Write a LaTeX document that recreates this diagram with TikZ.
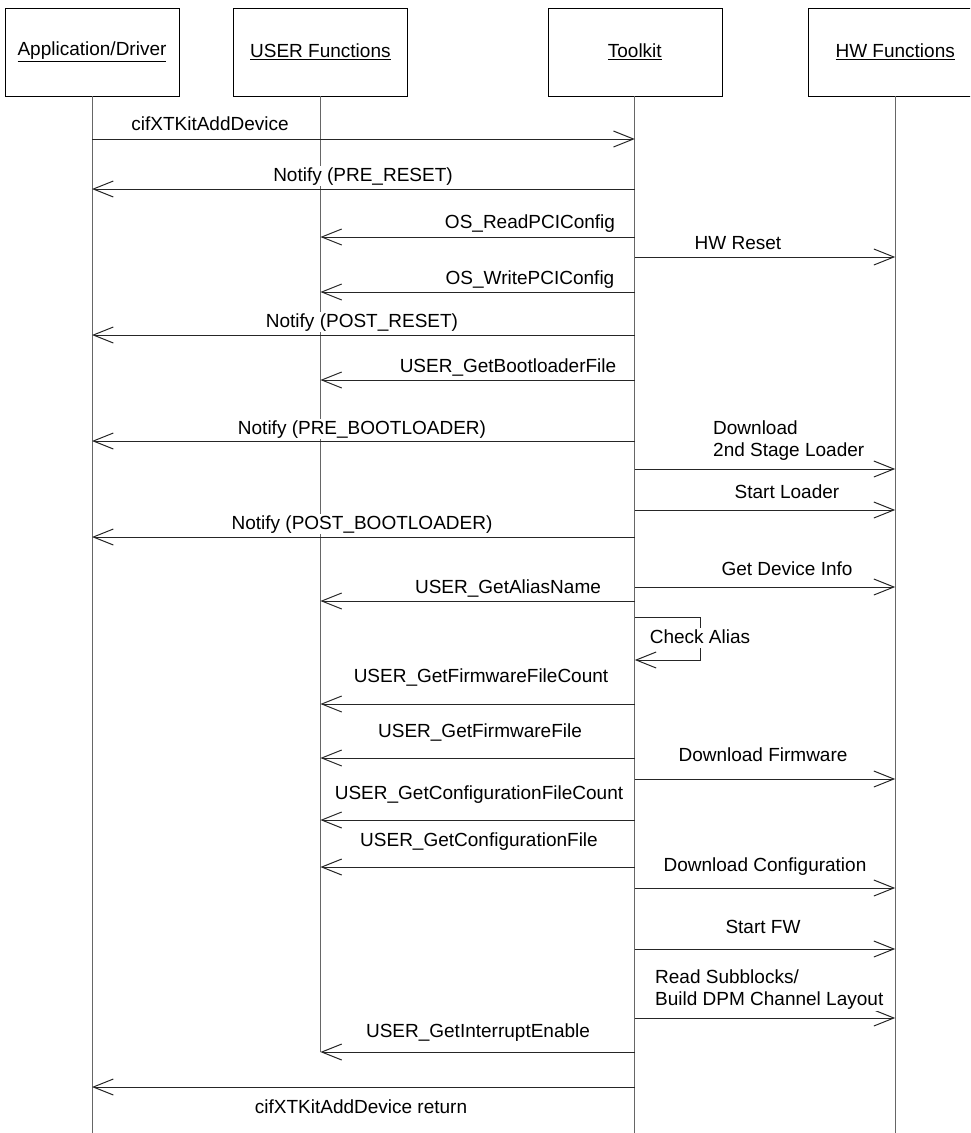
\documentclass[tikz,border=0pt]{standalone}
\usepackage{fontspec}
\setmainfont{Liberation Sans}
\usetikzlibrary{positioning, arrows.meta}
\tikzset{actor/.style={
        draw,
        rectangle,
        minimum width=174pt,
        minimum height=88pt,
        inner sep=0pt,
        align=center
}}
\tikzset{lifeline/.style={draw, black!60, line width=1pt}}
\tikzset{msg/.style={draw, black!85, line width=1pt, -{Straight Barb[length=20pt,width=16pt]}}}
\tikzset{msglabel/.style={fill=white, inner sep=1pt, text height=14pt, text depth=4pt}}
\tikzset{msgnote/.style={fill=white, inner sep=1pt, align=left, anchor=west}}

\begin{document}
\begin{tikzpicture}[x=1pt, y=-1pt, every node/.style={font=\fontsize{19}{22}\selectfont}]
\useasboundingbox (0,0) rectangle (970,1133);
\clip (0,0) rectangle (970,1133);

% participants
\node[actor] (app) at (92,52) {\underline{Application/Driver}};
\node[actor, right=54pt of app] (usr) {\underline{USER Functions}};
\node[actor, right=140pt of usr] (tk) {\underline{Toolkit}};
\node[actor, right=86pt of tk] (hw) {\underline{HW Functions}};

% message rows
\coordinate (bottom) at (0,1133);
\coordinate (r1) at (0,139);
\coordinate (r2) at (0,189);
\coordinate (r3) at (0,237);
\coordinate (r4) at (0,257);
\coordinate (r5) at (0,292);
\coordinate (r6) at (0,335);
\coordinate (r7) at (0,380);
\coordinate (r8) at (0,441);
\coordinate (r9) at (0,469);
\coordinate (r10) at (0,510);
\coordinate (r11) at (0,537);
\coordinate (r12) at (0,587);
\coordinate (r13) at (0,601);
\coordinate (loopA) at (700,617);
\coordinate (loopB) at (700,660);
\coordinate (r15) at (0,704);
\coordinate (r16) at (0,758);
\coordinate (r17) at (0,779);
\coordinate (r18) at (0,820);
\coordinate (r19) at (0,867);
\coordinate (r20) at (0,888);
\coordinate (r21) at (0,949);
\coordinate (r22) at (0,1018);
\coordinate (r23) at (0,1052);
\coordinate (r24) at (0,1087);

% lifelines
\draw[lifeline] (app.south) -- (app |- bottom);
\draw[lifeline] (usr.south) -- (usr |- r23);
\draw[lifeline] (tk.south) -- (tk |- bottom);
\draw[lifeline] (hw.south) -- (hw |- bottom);

% messages
\draw[msg] (app |- r1) -- (tk |- r1);
\draw[msg] (tk |- r2) -- (app |- r2);
\draw[msg] (tk |- r3) -- (usr |- r3);
\draw[msg] (tk |- r4) -- (hw |- r4);
\draw[msg] (tk |- r5) -- (usr |- r5);
\draw[msg] (tk |- r6) -- (app |- r6);
\draw[msg] (tk |- r7) -- (usr |- r7);
\draw[msg] (tk |- r8) -- (app |- r8);
\draw[msg] (tk |- r9) -- (hw |- r9);
\draw[msg] (tk |- r10) -- (hw |- r10);
\draw[msg] (tk |- r11) -- (app |- r11);
\draw[msg] (tk |- r12) -- (hw |- r12);
\draw[msg] (tk |- r13) -- (usr |- r13);
\draw[msg] (tk |- loopA) -- (loopA) -- (loopB) -- (tk |- loopB);
\draw[msg] (tk |- r15) -- (usr |- r15);
\draw[msg] (tk |- r16) -- (usr |- r16);
\draw[msg] (tk |- r17) -- (hw |- r17);
\draw[msg] (tk |- r18) -- (usr |- r18);
\draw[msg] (tk |- r19) -- (usr |- r19);
\draw[msg] (tk |- r20) -- (hw |- r20);
\draw[msg] (tk |- r21) -- (hw |- r21);
\draw[msg] (tk |- r22) -- (hw |- r22);
\draw[msg] (tk |- r23) -- (usr |- r23);
\draw[msg] (tk |- r24) -- (app |- r24);

% labels
\node[msglabel] (t1) at (210,125) {cifXTKitAddDevice};
\node[msglabel] (t2) at (363,176) {Notify (PRE\_RESET)};
\node[msglabel] (t3) at (530,223) {OS\_ReadPCIConfig};
\node[msglabel] (t4) at (738,244) {HW Reset};
\node[msglabel] (t5) at (530,279) {OS\_WritePCIConfig};
\node[msglabel] (t6) at (362,322) {Notify (POST\_RESET)};
\node[msglabel] (t7) at (508,367) {USER\_GetBootloaderFile};
\node[msglabel] (t8) at (362,429) {Notify (PRE\_BOOTLOADER)};
\node[msgnote] (t9) at (712,441) {Download\\2nd Stage Loader};
\node[msglabel] (t10) at (787,493) {Start Loader};
\node[msglabel] (t11) at (362,524) {Notify (POST\_BOOTLOADER)};
\node[msglabel] (t12) at (787,570) {Get Device Info};
\node[msglabel] (t13) at (508,588) {USER\_GetAliasName};
\node[msglabel] (t14) at (700,638) {Check Alias};
\node[msglabel] (t15) at (481,677) {USER\_GetFirmwareFileCount};
\node[msglabel] (t16) at (480,732) {USER\_GetFirmwareFile};
\node[msglabel] (t17) at (763,756) {Download Firmware};
\node[msglabel] (t18) at (479,794) {USER\_GetConfigurationFileCount};
\node[msglabel] (t19) at (479,841) {USER\_GetConfigurationFile};
\node[msglabel] (t20) at (765,866) {Download Configuration};
\node[msglabel] (t21) at (763,928) {Start FW};
\node[msgnote] (t22) at (654,990) {Read Subblocks/\\Build DPM Channel Layout};
\node[msglabel] (t23) at (478,1032) {USER\_GetInterruptEnable};
\node[msglabel] (t24) at (361,1108) {cifXTKitAddDevice return};
\end{tikzpicture}
\end{document}
